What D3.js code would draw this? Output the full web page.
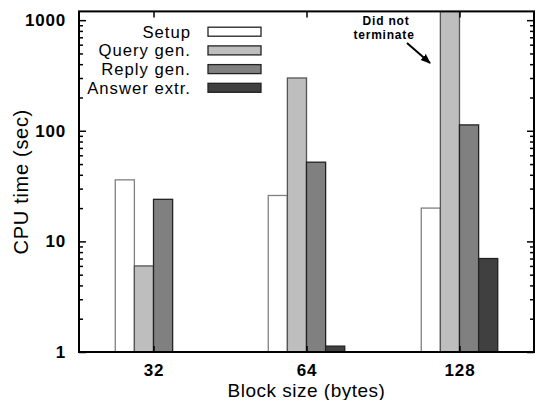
<!DOCTYPE html>
<html>
<head>
<meta charset="utf-8">
<script src="https://cdn.jsdelivr.net/npm/d3@7"></script>
<style>
    body { margin: 0; background: #fff; }
    text { font-family: "Liberation Sans", Arial, Helvetica, sans-serif; }
</style>
</head>
<body>
<div id="chart"></div>
<script>
// data
const blockSizes = ["32", "64", "128"];
const seriesNames = ["Setup", "Query gen.", "Reply gen.", "Answer extr."];
const setupTime = [36, 26, 20];
const queryTime = [6, 300, Infinity];   // 128: did not terminate
const replyTime = [24, 52, 113];
const answerTime = [null, 1.13, 7];
const yTicks = [1, 10, 100, 1000];
const yMinorTicks = [2, 3, 4, 5, 6, 7, 8, 9, 20, 30, 40, 50, 60, 70, 80, 90, 200, 300, 400, 500, 600, 700, 800, 900];

const fills = ["#ffffff", "#bebebe", "#808080", "#404040"];
const strokes = ["#808080", "#555555", "#222222", "#222222"];

let series = [setupTime, queryTime, replyTime, answerTime];

const W = 535, H = 400;
const margin = {top: 11.4, right: 1, bottom: 48, left: 79};

const svg = d3.select("#chart")
    .append("svg")
    .attr("width", W)
    .attr("height", H);

const x = d3.scaleBand()
    .domain(blockSizes)
    .range([margin.left, W - margin.right])
    .paddingInner(0.5)
    .paddingOuter(0.237);

const xs = d3.scaleBand()
    .domain(d3.range(seriesNames.length))
    .range([0, x.bandwidth()]);

const y = d3.scaleLog()
    .domain([1, 1200])
    .range([H - margin.bottom, margin.top])
    .clamp(true);

svg.append("clipPath").attr("id", "plotclip")
    .append("rect")
    .attr("x", margin.left).attr("y", margin.top)
    .attr("width", W - margin.right - margin.left)
    .attr("height", H - margin.bottom - margin.top);

// bars
let bars = [];
series.forEach((vals, s) => {
    vals.forEach((v, i) => {
        if (v != null) bars.push({s: s, cat: blockSizes[i], v: v});
    });
});

svg.append("g")
    .attr("clip-path", "url(#plotclip)")
    .selectAll("rect")
    .data(bars)
    .join("rect")
    .attr("x", d => x(d.cat) + xs(d.s))
    .attr("y", d => isFinite(d.v) ? y(d.v) : margin.top - 5)
    .attr("width", xs.bandwidth())
    .attr("height", d => y(1) - (isFinite(d.v) ? y(d.v) : margin.top - 5))
    .attr("fill", d => fills[d.s])
    .attr("stroke", d => strokes[d.s])
    .attr("stroke-width", 1.3);

// axes, ticks point inward like gnuplot
function styleAxis(g) {
    g.select(".domain").remove();
    g.selectAll(".tick line").attr("stroke", "#000").attr("stroke-width", 1.5);
    g.selectAll(".tick text")
        .attr("fill", "#000")
        .style("font-size", "17px")
        .style("font-weight", "bold")
        .style("letter-spacing", "0.8px");
}

svg.append("g")
    .attr("transform", `translate(${margin.left},0)`)
    .call(d3.axisLeft(y).tickValues(yTicks).tickFormat(d3.format("d")).tickSize(-7).tickPadding(13))
    .call(styleAxis);
svg.append("g")
    .attr("transform", `translate(${margin.left},0)`)
    .call(d3.axisLeft(y).tickValues(yMinorTicks).tickFormat("").tickSize(-4))
    .call(styleAxis);
svg.append("g")
    .attr("transform", `translate(${W - margin.right},0)`)
    .call(d3.axisRight(y).tickValues(yTicks).tickFormat("").tickSize(-7))
    .call(styleAxis);
svg.append("g")
    .attr("transform", `translate(${W - margin.right},0)`)
    .call(d3.axisRight(y).tickValues(yMinorTicks).tickFormat("").tickSize(-4))
    .call(styleAxis);

const xCenter = d3.scalePoint().domain(blockSizes)
    .range([x(blockSizes[0]) + x.bandwidth() / 2, x(blockSizes[2]) + x.bandwidth() / 2]);

svg.append("g")
    .attr("transform", `translate(0,${H - margin.bottom})`)
    .call(d3.axisBottom(xCenter).tickSize(-6).tickPadding(12))
    .call(styleAxis);
svg.append("g")
    .attr("transform", `translate(0,${margin.top})`)
    .call(d3.axisTop(xCenter).tickFormat("").tickSize(-6))
    .call(styleAxis);

// frame
svg.append("rect")
    .attr("x", margin.left).attr("y", margin.top)
    .attr("width", W - margin.right - margin.left)
    .attr("height", H - margin.bottom - margin.top)
    .attr("fill", "none")
    .attr("stroke", "#000")
    .attr("stroke-width", 2);

// axis titles
svg.append("text")
    .attr("x", (margin.left + W - margin.right) / 2)
    .attr("y", 397)
    .attr("text-anchor", "middle")
    .style("font-size", "19px")
    .style("letter-spacing", "0.5px")
    .text("Block size (bytes)");

svg.append("text")
    .attr("transform", `translate(28,${(margin.top + H - margin.bottom) / 2}) rotate(-90)`)
    .attr("text-anchor", "middle")
    .style("font-size", "20px")
    .style("letter-spacing", "0.7px")
    .text("CPU time (sec)");

// legend
const legend = svg.append("g")
    .selectAll("g")
    .data(seriesNames)
    .join("g")
    .attr("transform", (d, i) => `translate(0,${31.7 + i * 18.7})`);

legend.append("text")
    .attr("x", 191)
    .attr("y", 6)
    .attr("text-anchor", "end")
    .style("font-size", "16.7px")
    .style("letter-spacing", "1px")
    .text(d => d);

legend.append("rect")
    .attr("x", 208)
    .attr("y", -4.5)
    .attr("width", 53)
    .attr("height", 9)
    .attr("fill", (d, i) => fills[i])
    .attr("stroke", "#222")
    .attr("stroke-width", 1.3);

// "did not terminate" note
svg.append("defs").append("marker")
    .attr("id", "arrow")
    .attr("viewBox", "0 0 10 10")
    .attr("refX", 9).attr("refY", 5)
    .attr("markerWidth", 5).attr("markerHeight", 5)
    .attr("orient", "auto")
    .append("path")
    .attr("d", "M0,1 L10,5 L0,9 Z")
    .attr("fill", "#000");

const note = svg.append("text")
    .attr("text-anchor", "middle")
    .style("font-size", "12px")
    .style("font-weight", "bold")
    .style("letter-spacing", "0.8px");
note.append("tspan").attr("x", 386).attr("y", 25).text("Did not");
note.append("tspan").attr("x", 384).attr("y", 38.5).text("terminate");

svg.append("line")
    .attr("x1", 407).attr("y1", 43)
    .attr("x2", 430).attr("y2", 63)
    .attr("stroke", "#000")
    .attr("stroke-width", 2)
    .attr("marker-end", "url(#arrow)");
</script>
</body>
</html>
